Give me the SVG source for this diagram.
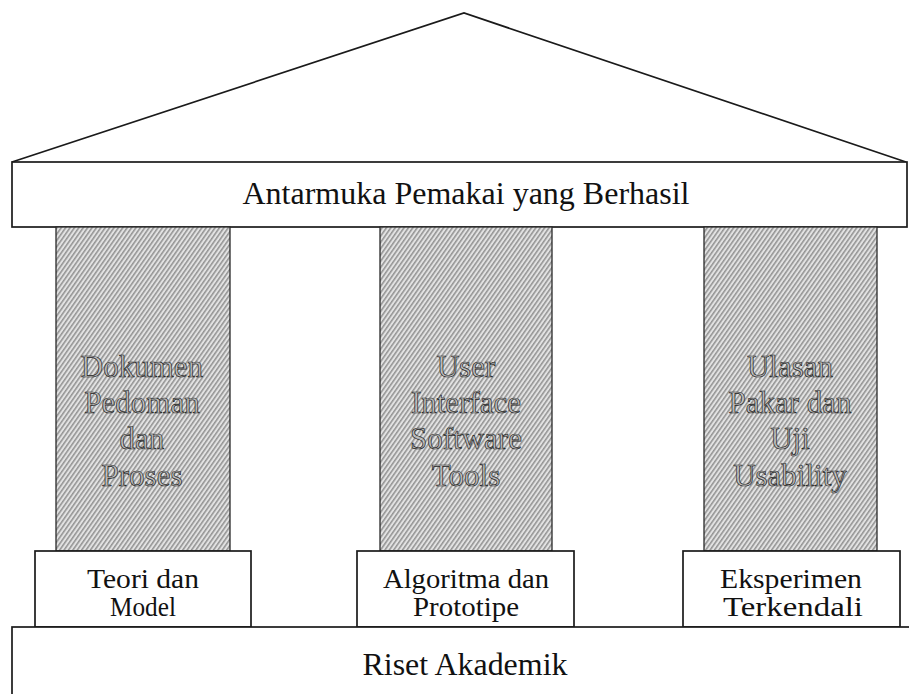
<svg xmlns="http://www.w3.org/2000/svg" width="909" height="694" viewBox="0 0 909 694">
  <defs>
    <!-- dense diagonal hatching used for the pillar shafts -->
    <pattern id="hatch" patternUnits="userSpaceOnUse" width="3.6" height="3.6" patternTransform="rotate(35)">
      <rect width="3.6" height="3.6" fill="#e2e2e2"/>
      <line x1="0.8" y1="0" x2="0.8" y2="3.6" stroke="#7d7d7d" stroke-width="1.2"/>
    </pattern>
    <style>
      .frame { fill: #fff; stroke: #1a1a1a; stroke-width: 1.7; }
      .pillar { fill: url(#hatch); stroke: #2a2a2a; stroke-width: 1.3; }
      .label { font-family: "Liberation Serif", "Times New Roman", serif; fill: #111; text-anchor: middle; }
      .engraved { font-family: "Liberation Serif", "Times New Roman", serif; fill: #b8b8b8; fill-opacity: 0.7; stroke: #1e1e1e; stroke-width: 0.7; text-anchor: middle; font-size: 31px; }
    </style>
  </defs>

  <!-- roof -->
  <g id="roof">
    <polyline points="12,162 464,13 906,162" fill="none" stroke="#1a1a1a" stroke-width="1.7"/>
  </g>

  <!-- lintel -->
  <g id="lintel">
    <rect class="frame" x="12" y="162" width="895" height="65"/>
    <text class="label" x="466" y="204" font-size="31" textLength="447" lengthAdjust="spacingAndGlyphs">Antarmuka Pemakai yang Berhasil</text>
  </g>

  <!-- pillars -->
  <g id="pillar-left">
    <rect class="pillar" x="56" y="227" width="174" height="324"/>
    <text class="engraved" x="142" y="377">Dokumen</text>
    <text class="engraved" x="142" y="413">Pedoman</text>
    <text class="engraved" x="142" y="449">dan</text>
    <text class="engraved" x="142" y="486">Proses</text>
  </g>

  <g id="pillar-middle">
    <rect class="pillar" x="380" y="227" width="172" height="324"/>
    <text class="engraved" x="466" y="377">User</text>
    <text class="engraved" x="466" y="413">Interface</text>
    <text class="engraved" x="466" y="449">Software</text>
    <text class="engraved" x="466" y="486">Tools</text>
  </g>

  <g id="pillar-right">
    <rect class="pillar" x="704" y="227" width="173" height="324"/>
    <text class="engraved" x="790" y="377">Ulasan</text>
    <text class="engraved" x="790" y="413">Pakar dan</text>
    <text class="engraved" x="790" y="449">Uji</text>
    <text class="engraved" x="790" y="486">Usability</text>
  </g>

  <!-- pillar bases -->
  <g id="base-left">
    <rect class="frame" x="35" y="551" width="216" height="76"/>
    <text class="label" x="143" y="588" font-size="28" textLength="112" lengthAdjust="spacingAndGlyphs">Teori dan</text>
    <text class="label" x="143" y="616" font-size="28" textLength="66" lengthAdjust="spacingAndGlyphs">Model</text>
  </g>

  <g id="base-middle">
    <rect class="frame" x="357" y="551" width="217" height="76"/>
    <text class="label" x="466" y="588" font-size="28" textLength="166" lengthAdjust="spacingAndGlyphs">Algoritma dan</text>
    <text class="label" x="466" y="616" font-size="28" textLength="106" lengthAdjust="spacingAndGlyphs">Prototipe</text>
  </g>

  <g id="base-right">
    <rect class="frame" x="683" y="551" width="217" height="76"/>
    <text class="label" x="791" y="588" font-size="28" textLength="142" lengthAdjust="spacingAndGlyphs">Eksperimen</text>
    <text class="label" x="793" y="616" font-size="28" textLength="140" lengthAdjust="spacingAndGlyphs">Terkendali</text>
  </g>

  <!-- foundation -->
  <g id="foundation">
    <rect class="frame" x="12" y="627" width="910" height="80"/>
    <text class="label" x="465" y="675" font-size="31" textLength="205" lengthAdjust="spacingAndGlyphs">Riset Akademik</text>
  </g>

  <g id="connectors"/>
</svg>
